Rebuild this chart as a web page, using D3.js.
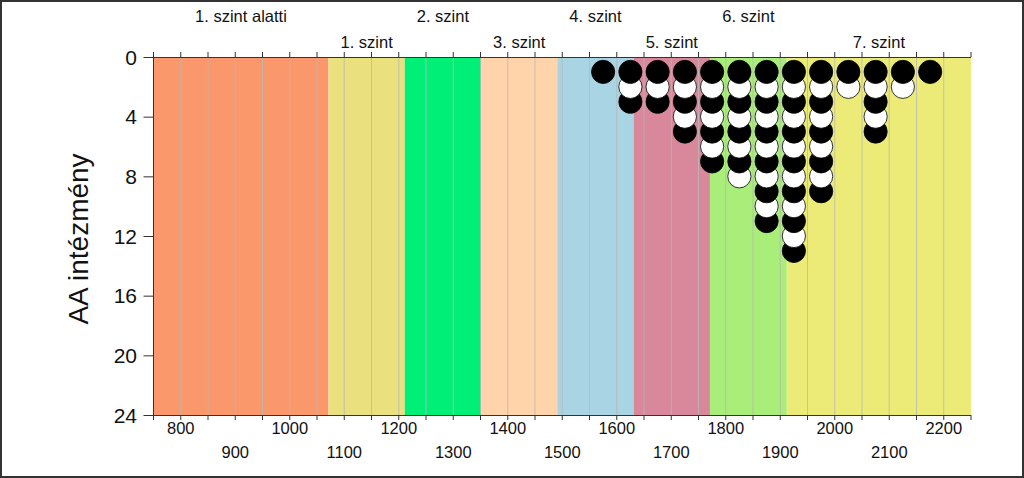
<!DOCTYPE html>
<html><head><meta charset="utf-8">
<script src="https://cdn.jsdelivr.net/npm/d3@7"></script>
<style>body{margin:0;background:#fff;}svg{display:block;font-family:"Liberation Sans",Arial,sans-serif;}</style>
</head><body>
<svg id="c" width="1024" height="478"></svg>
<script>
// Level bands (score ranges)
const levelNames = ["1. szint alatti","1. szint","2. szint","3. szint","4. szint","5. szint","6. szint","7. szint"];
const levelStarts = [750, 1071, 1211, 1351, 1491, 1631, 1771, 1912];
const levelEnds   = [1071, 1211, 1351, 1491, 1631, 1771, 1912, 2250];
const levelColors = ["#FA976B","#EAE07E","#00F077","#FFD4AB","#A8D4E3","#D9889B","#A8EE78","#EDEB77"];
// Dot columns (score bin centers) and number of institutions in each
const binCenters = [1575,1625,1675,1725,1775,1825,1875,1925,1975,2025,2075,2125,2175];
const binCounts  = [1,3,3,5,7,8,11,13,9,2,5,2,1];
// Axis ticks
const xTicks = [750,800,850,900,950,1000,1050,1100,1150,1200,1250,1300,1350,1400,1450,1500,1550,1600,1650,1700,1750,1800,1850,1900,1950,2000,2050,2100,2150,2200,2250];
const xLabelsRow1 = [800,1000,1200,1400,1600,1800,2000,2200];
const xLabelsRow2 = [900,1100,1300,1500,1700,1900,2100];
const yTicks = [0,4,8,12,16,20,24];
const yTitle = "AA intézmény";

const svg = d3.select("#c");
const x = d3.scaleLinear().domain([750,2250]).range([153.5,971]);
const y = d3.scaleLinear().domain([0,24]).range([57,415]);

// outer frame
svg.append("rect").attr("x",1).attr("y",1).attr("width",1022).attr("height",476)
  .attr("fill","#fff").attr("stroke","#333").attr("stroke-width",2);

// bands
svg.append("g").selectAll("rect").data(levelNames).join("rect")
  .attr("x",(d,i)=>x(levelStarts[i])).attr("y",y(0))
  .attr("width",(d,i)=>x(levelEnds[i])-x(levelStarts[i])).attr("height",y(24)-y(0))
  .attr("fill",(d,i)=>levelColors[i]);

// gridlines
svg.append("g").selectAll("line").data(xTicks.slice(1,-1)).join("line")
  .attr("x1",d=>x(d)).attr("x2",d=>x(d)).attr("y1",y(0)).attr("y2",y(24))
  .attr("stroke","#b8b8b8").attr("stroke-opacity",0.8).attr("stroke-width",1);

// level labels
svg.append("g").selectAll("text").data(levelNames).join("text")
  .attr("x",(d,i)=>x((levelStarts[i]+levelEnds[i])/2))
  .attr("y",(d,i)=> i%2===0 ? 22 : 48)
  .attr("text-anchor","middle").attr("font-size","16.5px").attr("fill","#111").text(d=>d);

// axes
const ax = svg.append("g").attr("stroke","#333").attr("stroke-width",1);
ax.append("line").attr("x1",x(750)).attr("x2",x(2250)).attr("y1",y(0)+0.5).attr("y2",y(0)+0.5);
ax.append("line").attr("x1",x(750)).attr("x2",x(2250)).attr("y1",y(24)+0.5).attr("y2",y(24)+0.5);
ax.append("line").attr("x1",x(750)).attr("x2",x(750)).attr("y1",y(0)).attr("y2",y(24));
ax.selectAll(".tt").data(xTicks).join("line").attr("class","tt")
  .attr("x1",d=>x(d)).attr("x2",d=>x(d)).attr("y1",y(0)).attr("y2",y(0)-5);
ax.selectAll(".bt").data(xTicks).join("line").attr("class","bt")
  .attr("x1",d=>x(d)).attr("x2",d=>x(d)).attr("y1",y(24)).attr("y2",y(24)+5);
ax.selectAll(".lt").data(yTicks).join("line").attr("class","lt")
  .attr("x1",x(750)-10).attr("x2",x(750)).attr("y1",d=>y(d)+0.5).attr("y2",d=>y(d)+0.5);

svg.append("g").selectAll("text").data(xLabelsRow1).join("text")
  .attr("x",d=>x(d)).attr("y",434).attr("text-anchor","middle").attr("font-size","16.5px").attr("fill","#111").text(d=>d);
svg.append("g").selectAll("text").data(xLabelsRow2).join("text")
  .attr("x",d=>x(d)).attr("y",458).attr("text-anchor","middle").attr("font-size","16.5px").attr("fill","#111").text(d=>d);
svg.append("g").selectAll("text").data(yTicks).join("text")
  .attr("x",137).attr("y",d=>y(d)).attr("dy","0.36em").attr("text-anchor","end").attr("font-size","21px").attr("fill","#111").text(d=>d);
svg.append("text").attr("transform","translate(88,239) rotate(-90)").attr("text-anchor","middle")
  .attr("font-size","28px").attr("fill","#111").text(yTitle);

// dots: stacked per column, upper dots drawn on top
const dots = [];
binCenters.forEach((c,i)=>{ for(let k=1;k<=binCounts[i];k++) dots.push({x:c,k}); });
dots.sort((a,b)=>b.k-a.k);
svg.append("g").selectAll("circle").data(dots).join("circle")
  .attr("cx",d=>x(d.x)).attr("cy",d=>y(d.k)).attr("r",11.6)
  .attr("fill",d=>d.k%2===1?"#000":"#fff").attr("stroke","#000").attr("stroke-width",0.8);
</script>
</body></html>
